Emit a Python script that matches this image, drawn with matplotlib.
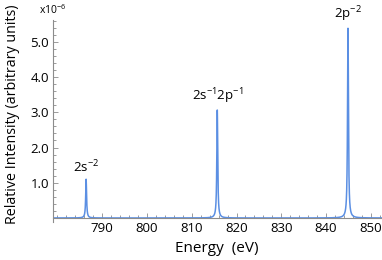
import numpy as np
import matplotlib
matplotlib.use("Agg")
import matplotlib.pyplot as plt
from matplotlib.ticker import MultipleLocator

plt.rcParams.update({
    'font.family': 'Open Sans',
    'mathtext.fontset': 'custom',
    'mathtext.rm': 'Open Sans',
    'mathtext.it': 'Open Sans:italic',
})

# peak data (eV, intensity in units of 1e-6)
peak_energy = [786.4, 815.7, 844.9]
peak_height = [1.10, 3.07, 5.39]
peak_hwhm = [0.12, 0.12, 0.12]
peak_labels = [r'$\mathregular{2s^{-2}}$', r'$\mathregular{2s^{-1}2p^{-1}}$', r'$\mathregular{2p^{-2}}$']

x_ticks = [790, 800, 810, 820, 830, 840, 850]
y_ticks = [1, 2, 3, 4, 5]
y_tick_labels = ['1.0', '2.0', '3.0', '4.0', '5.0']

LINE = '#5b8fe3'
AXIS = '#8c8c8c'

energy = np.linspace(779.0, 852.5, 6000)
spectrum = np.zeros_like(energy)
for e0, h, g in zip(peak_energy, peak_height, peak_hwhm):
    spectrum += h * g**2 / ((energy - e0)**2 + g**2)

fig = plt.figure(figsize=(3.82, 2.60), dpi=100)
ax = fig.add_axes([53/382, 38.5/260, 329/382, 201.5/260])

ax.plot(energy, spectrum, color=LINE, lw=1.1)

for e0, h, lab in zip(peak_energy, peak_height, peak_labels):
    ax.annotate(lab, (e0, h), xytext=(0, 3), textcoords='offset points',
                ha='center', va='bottom', fontsize=9.5)

ax.set_xlim(779.0, 852.5)
ax.set_ylim(-0.1, 5.62)
ax.spines['top'].set_visible(False)
ax.spines['right'].set_visible(False)
ax.spines['bottom'].set_position(('data', 0))
for s in ['left', 'bottom']:
    ax.spines[s].set_color(AXIS)
    ax.spines[s].set_linewidth(0.8)

ax.set_xticks(x_ticks)
ax.xaxis.set_minor_locator(MultipleLocator(2))
ax.set_yticks(y_ticks)
ax.set_yticklabels(y_tick_labels)
ax.yaxis.set_minor_locator(MultipleLocator(0.2))
ax.tick_params(which='both', direction='in', color=AXIS, labelsize=9.5, width=0.6)
ax.tick_params(which='major', length=3.5, pad=3)
ax.tick_params(which='minor', length=2)

fig.text(217/382, 1 - 249/260, 'Energy  (eV)', ha='center', va='center', fontsize=11)
fig.text(13/382, 1 - 114/260, 'Relative Intensity (arbitrary units)', ha='center', va='center',
         rotation=90, fontsize=10.3)

fig.text(53/382, 1 - 10/260, r'$\mathregular{x10^{-6}}$', ha='center', va='center', fontsize=7.5)

fig.savefig('out.png', dpi=100)
